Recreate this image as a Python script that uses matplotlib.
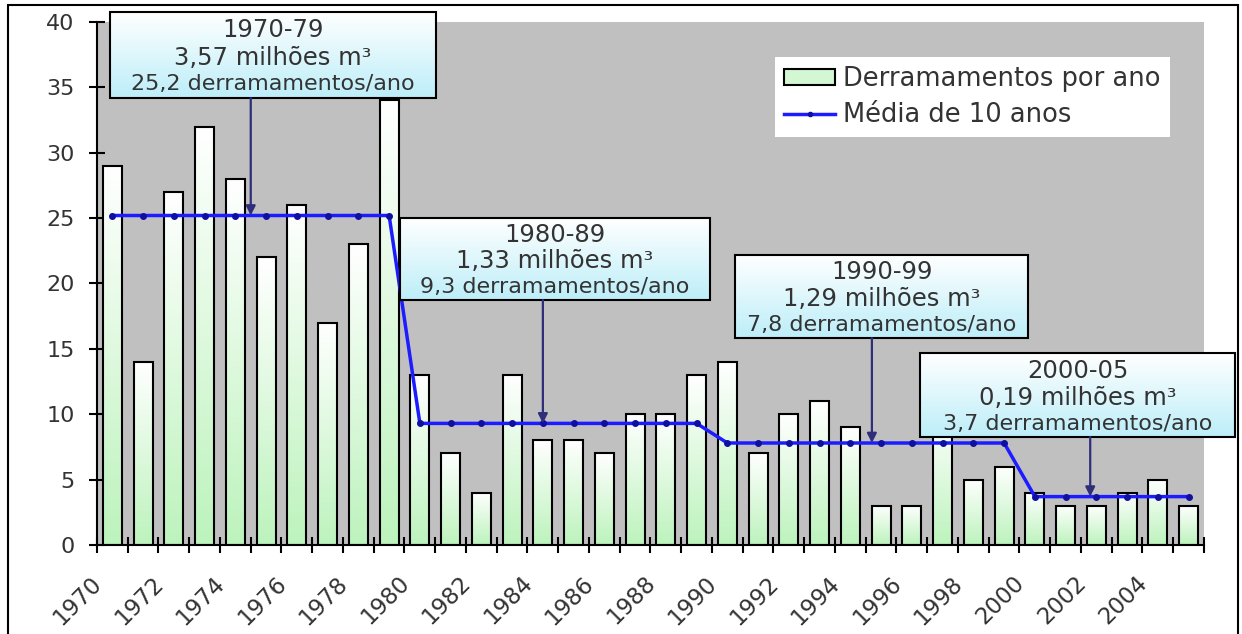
import numpy as np
import matplotlib.pyplot as plt
import matplotlib.transforms as mtransforms
from matplotlib.patches import Rectangle, Patch
from matplotlib.lines import Line2D
from matplotlib.colors import LinearSegmentedColormap

# dados
anos = list(range(1970, 2006))
derramamentos = [29, 14, 27, 32, 28, 22, 26, 17, 23, 34,
                 13, 7, 4, 13, 8, 8, 7, 10, 10, 13,
                 14, 7, 10, 11, 9, 3, 3, 10, 5, 6,
                 4, 3, 3, 4, 5, 3]
media_10 = [25.2, 25.2, 25.2, 25.2, 25.2, 25.2, 25.2, 25.2, 25.2, 25.2,
            9.3, 9.3, 9.3, 9.3, 9.3, 9.3, 9.3, 9.3, 9.3, 9.3,
            7.8, 7.8, 7.8, 7.8, 7.8, 7.8, 7.8, 7.8, 7.8, 7.8,
            3.7, 3.7, 3.7, 3.7, 3.7, 3.7]

periodos = ['1970-79', '1980-89', '1990-99', '2000-05']
volumes = ['3,57 milhões m³', '1,33 milhões m³', '1,29 milhões m³', '0,19 milhões m³']
taxas = ['25,2 derramamentos/ano', '9,3 derramamentos/ano',
         '7,8 derramamentos/ano', '3,7 derramamentos/ano']
medias_periodo = [25.2, 9.3, 7.8, 3.7]

# layout das caixas: (x0, x1, y0, y1, x da seta) em coordenadas de dados
caixas = [(-0.08, 10.52, 34.19, 40.77, 4.5),
          (9.35, 19.43, 18.74, 25.01, 14.0),
          (20.25, 29.78, 15.83, 22.18, 24.7),
          (26.26, 36.51, 8.26, 14.68, 31.8)]

cor_texto = '#333333'

fig = plt.figure(figsize=(12.42, 6.34), dpi=100)
ax = fig.add_axes([0.0781, 0.1404, 0.8913, 0.8249])
ax.set_facecolor('#c0c0c0')

x = np.arange(len(anos))
barras = ax.bar(x, derramamentos, width=0.62, facecolor='none',
                edgecolor='black', linewidth=1.5, zorder=3)

# gradiente branco -> verde claro em cada barra
grad = np.linspace(0, 1, 100).reshape(-1, 1)
verde = LinearSegmentedColormap.from_list('verde', ['#ffffff', '#bdf3bd'])
for b in barras:
    x0, w, h = b.get_x(), b.get_width(), b.get_height()
    ax.imshow(grad, cmap=verde, extent=(x0, x0 + w, 0, h), origin='upper',
              aspect='auto', interpolation='bilinear', zorder=2)

ax.plot(x, media_10, color='#1c1cff', lw=2.5, marker='o', ms=4,
        mfc='#1010a0', mec='#1010a0', zorder=4)

ax.set_xlim(-0.5, 35.5)
ax.set_ylim(0, 40)

for s in ['top', 'right']:
    ax.spines[s].set_visible(False)
for s in ['left', 'bottom']:
    ax.spines[s].set_linewidth(1.5)

ax.set_yticks(np.arange(0, 41, 5))
ax.tick_params(axis='y', direction='inout', length=12, width=1.5,
               labelsize=16, labelcolor=cor_texto, pad=10)

ax.set_xticks(np.arange(-0.5, 36, 1), [''] * 37)
ax.tick_params(axis='x', which='major', direction='inout', length=12, width=1.5)
ax.set_xticks(x[::2], [str(a) for a in anos[::2]], minor=True)
ax.tick_params(axis='x', which='minor', length=0, labelsize=16.5,
               labelcolor=cor_texto, pad=25)
desloc = mtransforms.ScaledTranslation(-14 / 100, 0, fig.dpi_scale_trans)
for lbl in ax.get_xticklabels(minor=True):
    lbl.set_rotation(45)
    lbl.set_ha('right')
    lbl.set_va('center')
    lbl.set_rotation_mode('anchor')
    lbl.set_transform(lbl.get_transform() + desloc)

# caixas de anotacao
ciano = LinearSegmentedColormap.from_list('ciano', ['#ffffff', '#bdeef9'])
for i, (x0, x1, y0, y1, xs) in enumerate(caixas):
    ax.imshow(grad, cmap=ciano, extent=(x0, x1, y0, y1), origin='upper',
              aspect='auto', interpolation='bilinear', zorder=6, clip_on=False)
    ax.add_patch(Rectangle((x0, y0), x1 - x0, y1 - y0, fill=False,
                           edgecolor='black', lw=1.5, zorder=7, clip_on=False))
    xc = (x0 + x1) / 2
    hgt = y1 - y0
    ax.text(xc, y1 - 0.21 * hgt, periodos[i], ha='center', va='center',
            fontsize=17.5, color=cor_texto, zorder=8, clip_on=False)
    ax.text(xc, y1 - 0.53 * hgt, volumes[i], ha='center', va='center',
            fontsize=17.5, color=cor_texto, zorder=8, clip_on=False)
    ax.text(xc, y1 - 0.84 * hgt, taxas[i], ha='center', va='center',
            fontsize=16, color=cor_texto, zorder=8, clip_on=False)
    ax.annotate('', xy=(xs, medias_periodo[i]), xytext=(xs, y0),
                arrowprops=dict(arrowstyle='-|>', color='#2e2e7a', lw=1.6,
                                mutation_scale=14, shrinkA=0, shrinkB=0),
                zorder=9)

handles = [Patch(facecolor='#d2f7d2', edgecolor='black', linewidth=1.5),
           Line2D([], [], color='#1c1cff', lw=2.5, marker='o', ms=3,
                  mfc='#1010a0', mec='#1010a0')]
leg = ax.legend(handles, ['Derramamentos por ano', 'Média de 10 anos'],
                loc='upper right', bbox_to_anchor=(0.969, 0.933),
                borderaxespad=0, fontsize=18.5, frameon=True, fancybox=False,
                edgecolor='none', facecolor='white', framealpha=1,
                handlelength=2.0, handleheight=0.6, handletextpad=0.3,
                borderpad=0.35, labelspacing=0.4)
for t in leg.get_texts():
    t.set_color(cor_texto)

fig.patches.append(Rectangle((0.0064, -0.05), 0.9904, 1.042,
                             transform=fig.transFigure, fill=False,
                             edgecolor='black', lw=1.5))

fig.savefig('out.png', dpi=100)
